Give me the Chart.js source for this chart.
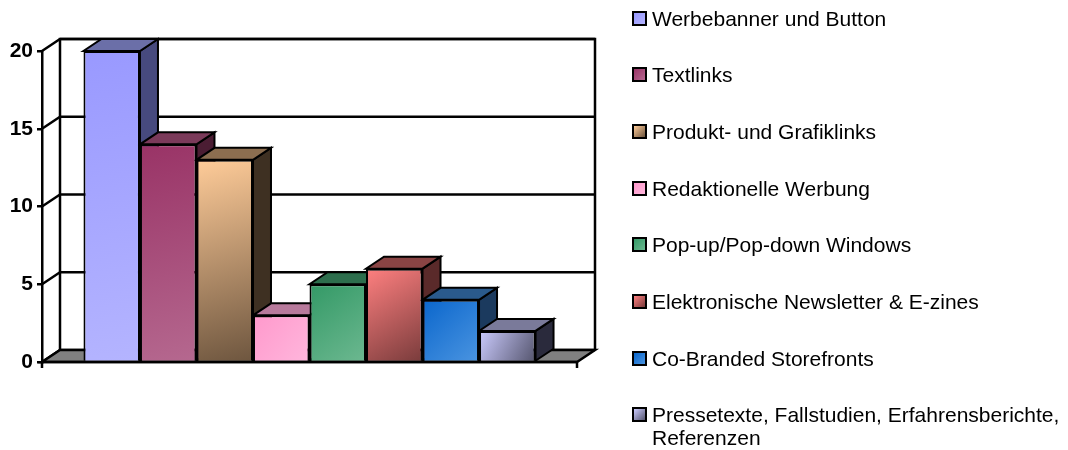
<!DOCTYPE html>
<html>
<head>
<meta charset="utf-8">
<script src="https://cdn.jsdelivr.net/npm/chart.js@4.4.0/dist/chart.umd.min.js"></script>
<style>
    html, body { margin: 0; padding: 0; background: #fff; }
    #wrap { position: relative; width: 1068px; height: 450px; }
    #legend { position: absolute; left: 632px; top: 0; font-family: "Liberation Sans", Arial, sans-serif; font-size: 21px; color: #000; }
    .item { position: absolute; left: 0; display: flex; align-items: flex-start; }
    .box { width: 11px; height: 11px; border: 2px solid #000; margin-top: 4px; margin-right: 5px; flex: none; }
    .txt { width: 420px; line-height: 23px; }
</style>
</head>
<body>
<div id="wrap">
    <canvas id="chart" width="1068" height="450"></canvas>
    <div id="legend"></div>
</div>
<script>
// Data
const categories = [""];
const seriesLabels = [
    "Werbebanner und Button",
    "Textlinks",
    "Produkt- und Grafiklinks",
    "Redaktionelle Werbung",
    "Pop-up/Pop-down Windows",
    "Elektronische Newsletter & E-zines",
    "Co-Branded Storefronts",
    "Pressetexte, Fallstudien, Erfahrensberichte, Referenzen",
];
const seriesValues = [20, 14, 13, 3, 5, 6, 4, 2];
const yTicks = [0, 5, 10, 15, 20];

// Colours per series: front face (left -> right), top face, side face
const frontLeft = ["#9999ff", "#993366", "#ffcc99", "#ff99cc", "#339966", "#ff8080", "#0a66cc", "#ccccff"];
const frontRight = ["#b4b4ff", "#b5688f", "#6e563f", "#ffb6dc", "#6cb890", "#7a3c3c", "#4a94e0", "#55556e"];
const topColors = ["#6b6fa8", "#7b3a5a", "#8c6e50", "#b87a9c", "#2d6e4d", "#8a4444", "#2a5a8c", "#7a7a9a"];
const sideColors = ["#474a7e", "#4b1d33", "#3e3022", "#8a5070", "#1f4d36", "#5a2a2a", "#1b3a5e", "#2a2a3c"];

const DX = 18, DY = 12; // depth offset of the 3D effect

function poly(ctx, pts, fill) {
    ctx.beginPath();
    ctx.moveTo(pts[0][0], pts[0][1]);
    for (let i = 1; i < pts.length; i++) ctx.lineTo(pts[i][0], pts[i][1]);
    ctx.closePath();
    if (fill) { ctx.fillStyle = fill; ctx.fill(); }
    ctx.stroke();
}

const box3d = {
    id: "box3d",
    beforeDatasetsDraw(chart) {
        const { ctx, chartArea: a, scales: { y } } = chart;
        const yTop = y.getPixelForValue(yTicks[yTicks.length - 1]);
        const yBot = y.getPixelForValue(0);
        ctx.save();
        ctx.lineWidth = 2.5;
        ctx.strokeStyle = "#000";

        // back wall + grid lines
        ctx.beginPath();
        ctx.moveTo(a.left + DX, yBot - DY);
        ctx.lineTo(a.left + DX, yTop - DY);
        ctx.lineTo(a.right + DX, yTop - DY);
        ctx.lineTo(a.right + DX, yBot - DY);
        ctx.stroke();
        yTicks.forEach((v) => {
            const py = y.getPixelForValue(v);
            ctx.beginPath();
            ctx.moveTo(a.left + DX, py - DY);
            ctx.lineTo(a.right + DX, py - DY);
            ctx.moveTo(a.left, py);
            ctx.lineTo(a.left + DX, py - DY);
            ctx.stroke();
        });

        // floor
        poly(ctx, [[a.left, yBot], [a.right, yBot], [a.right + DX, yBot - DY], [a.left + DX, yBot - DY]], "#808080");

        // side and top faces, then front gradient
        ctx.lineWidth = 2;
        const bars = chart.data.datasets.map((ds, i) => chart.getDatasetMeta(i).data[0]);
        bars.forEach((bar, i) => {
            const { x, y: top, base, width } = bar.getProps(["x", "y", "base", "width"], true);
            const R = x + width / 2;
            poly(ctx, [[R, top], [R + DX, top - DY], [R + DX, base - DY], [R, base]], sideColors[i]);
        });
        bars.forEach((bar, i) => {
            const { x, y: top, width } = bar.getProps(["x", "y", "width"], true);
            const L = x - width / 2, R = x + width / 2;
            poly(ctx, [[L, top], [R, top], [R + DX, top - DY], [L + DX, top - DY]], topColors[i]);
        });
        bars.forEach((bar, i) => {
            const { x, y: top, base, width } = bar.getProps(["x", "y", "base", "width"], true);
            const L = x - width / 2, R = x + width / 2;
            const g = ctx.createLinearGradient(L, top, R, base);
            g.addColorStop(0, frontLeft[i]);
            g.addColorStop(1, frontRight[i]);
            bar.options.backgroundColor = g;
        });
        ctx.restore();
    },
    afterDraw(chart) {
        const { ctx, chartArea: a } = chart;
        ctx.save();
        ctx.lineWidth = 2.5;
        ctx.strokeStyle = "#000";
        ctx.beginPath();
        ctx.moveTo(a.left, a.bottom);
        ctx.lineTo(a.right, a.bottom);
        ctx.moveTo(a.right, a.bottom);
        ctx.lineTo(a.right, a.bottom + 6);
        ctx.moveTo(a.left, a.bottom);
        ctx.lineTo(a.left, a.bottom + 6);
        ctx.stroke();
        ctx.restore();
    },
};

const datasets = seriesLabels.map((label, i) => ({
    label: label,
    data: [seriesValues[i]],
    backgroundColor: frontLeft[i],
    borderColor: "#000",
    borderWidth: 2,
    categoryPercentage: 0.845,
    barPercentage: 1.0,
}));

new Chart(document.getElementById("chart"), {
    type: "bar",
    data: { labels: categories, datasets: datasets },
    options: {
        responsive: false,
        animation: false,
        devicePixelRatio: 1,
        layout: { padding: { left: 0, top: 51, right: 491, bottom: 88 } },
        plugins: { legend: { display: false }, tooltip: { enabled: false } },
        scales: {
            x: { display: false },
            y: {
                min: 0,
                max: 20,
                afterFit: (s) => { s.width = 42; },
                ticks: {
                    stepSize: 5,
                    padding: 4,
                    color: "#000",
                    font: { family: "'Liberation Sans', Arial, sans-serif", size: 21, weight: "bold" },
                },
                grid: { drawOnChartArea: false, drawTicks: true, tickLength: 5, color: "#000", lineWidth: 2.5 },
                border: { display: true, color: "#000", width: 2.5 },
            },
        },
    },
    plugins: [box3d],
});

// Legend
const legend = document.getElementById("legend");
seriesLabels.forEach((label, i) => {
    const item = document.createElement("div");
    item.className = "item";
    item.style.top = (18 + i * 56.7 - 11.5) + "px";
    const box = document.createElement("span");
    box.className = "box";
    box.style.background = "linear-gradient(135deg, " + frontLeft[i] + ", " + frontRight[i] + ")";
    const txt = document.createElement("span");
    txt.className = "txt";
    txt.textContent = label;
    item.appendChild(box);
    item.appendChild(txt);
    legend.appendChild(item);
});
</script>
</body>
</html>
